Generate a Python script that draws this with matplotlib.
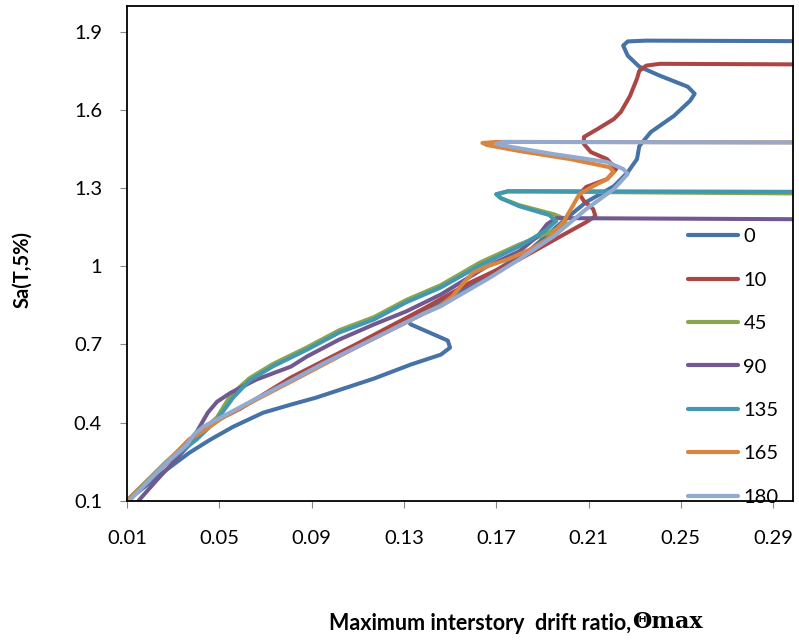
import matplotlib
matplotlib.use("Agg")
from matplotlib import pyplot as plt

plt.rcParams['font.family'] = ['Lato', 'DejaVu Sans']

# series values (drift ratio, Sa)
x_0 = [0.010, 0.027, 0.037, 0.046, 0.056, 0.069, 0.081, 0.092, 0.117, 0.133, 0.146, 0.150,
       0.149, 0.141, 0.133, 0.131, 0.135, 0.146, 0.159, 0.172, 0.185, 0.201, 0.209, 0.221,
       0.227, 0.231, 0.232, 0.237, 0.247, 0.254, 0.256, 0.253, 0.241, 0.232, 0.227, 0.225,
       0.227, 0.235, 0.400]
y_0 = [0.100, 0.218, 0.284, 0.334, 0.384, 0.438, 0.469, 0.496, 0.569, 0.623, 0.661, 0.688,
       0.715, 0.746, 0.777, 0.796, 0.819, 0.865, 0.923, 0.996, 1.066, 1.189, 1.247, 1.308,
       1.362, 1.412, 1.462, 1.516, 1.578, 1.636, 1.663, 1.690, 1.732, 1.767, 1.809, 1.848,
       1.864, 1.867, 1.862]

x_10 = [0.010, 0.027, 0.037, 0.046, 0.059, 0.081, 0.110, 0.138, 0.159, 0.180, 0.198, 0.209,
        0.213, 0.212, 0.208, 0.206, 0.209, 0.218, 0.222, 0.218, 0.211, 0.208, 0.208, 0.214,
        0.221, 0.224, 0.228, 0.231, 0.232, 0.235, 0.241, 0.400]
y_10 = [0.100, 0.245, 0.335, 0.395, 0.453, 0.573, 0.704, 0.835, 0.939, 1.027, 1.116, 1.170,
        1.193, 1.220, 1.251, 1.278, 1.305, 1.335, 1.374, 1.412, 1.439, 1.470, 1.497, 1.528,
        1.566, 1.593, 1.655, 1.721, 1.751, 1.771, 1.778, 1.772]

x_45 = [0.010, 0.027, 0.039, 0.049, 0.055, 0.063, 0.073, 0.088, 0.102, 0.117, 0.131, 0.146,
        0.163, 0.180, 0.193, 0.200, 0.200, 0.195, 0.180, 0.172, 0.170, 0.175, 0.185, 0.400]
y_45 = [0.100, 0.250, 0.342, 0.420, 0.506, 0.570, 0.624, 0.689, 0.755, 0.805, 0.871, 0.928,
        1.015, 1.084, 1.130, 1.158, 1.181, 1.200, 1.235, 1.262, 1.277, 1.287, 1.287, 1.274]

x_90 = [0.015, 0.023, 0.037, 0.045, 0.049, 0.055, 0.066, 0.081, 0.088, 0.102, 0.117, 0.131,
        0.146, 0.166, 0.180, 0.188, 0.192, 0.196, 0.204, 0.400]
y_90 = [0.100, 0.180, 0.315, 0.438, 0.480, 0.515, 0.565, 0.615, 0.654, 0.719, 0.777, 0.827,
        0.892, 1.000, 1.058, 1.116, 1.162, 1.185, 1.185, 1.177]

x_135 = [0.010, 0.027, 0.040, 0.049, 0.056, 0.063, 0.073, 0.088, 0.102, 0.117, 0.131, 0.146,
         0.163, 0.180, 0.191, 0.196, 0.193, 0.180, 0.172, 0.170, 0.175, 0.185, 0.400]
y_135 = [0.100, 0.245, 0.334, 0.411, 0.496, 0.561, 0.615, 0.680, 0.746, 0.796, 0.862, 0.919,
         1.004, 1.077, 1.135, 1.174, 1.197, 1.231, 1.262, 1.277, 1.289, 1.289, 1.284]

x_165 = [0.010, 0.027, 0.037, 0.044, 0.052, 0.066, 0.081, 0.110, 0.138, 0.146, 0.151, 0.156,
         0.160, 0.166, 0.175, 0.185, 0.192, 0.199, 0.203, 0.206, 0.212, 0.218, 0.221, 0.219,
         0.202, 0.180, 0.166, 0.164, 0.170, 0.400]
y_165 = [0.100, 0.245, 0.334, 0.373, 0.422, 0.488, 0.557, 0.692, 0.816, 0.850, 0.885, 0.938,
         0.976, 1.000, 1.027, 1.066, 1.104, 1.169, 1.230, 1.277, 1.308, 1.335, 1.362, 1.381,
         1.412, 1.443, 1.466, 1.474, 1.478, 1.475]

x_180 = [0.011, 0.027, 0.036, 0.039, 0.043, 0.052, 0.066, 0.081, 0.095, 0.110, 0.124, 0.138,
         0.146, 0.151, 0.166, 0.180, 0.195, 0.209, 0.221, 0.227, 0.225, 0.218, 0.195, 0.177,
         0.170, 0.173, 0.400]
y_180 = [0.100, 0.245, 0.315, 0.354, 0.384, 0.426, 0.492, 0.561, 0.627, 0.692, 0.754, 0.816,
         0.847, 0.873, 0.950, 1.027, 1.116, 1.220, 1.297, 1.355, 1.374, 1.401, 1.431, 1.458,
         1.470, 1.478, 1.474]

labels = ['0', '10', '45', '90', '135', '165', '180']
xs = [x_0, x_10, x_45, x_90, x_135, x_165, x_180]
ys = [y_0, y_10, y_45, y_90, y_135, y_165, y_180]
colors = ['#4572A7', '#AA4643', '#89A54E', '#71588F', '#4198AF', '#DB843D', '#93A9CF']

x_ticks = [0.01, 0.05, 0.09, 0.13, 0.17, 0.21, 0.25, 0.29]
x_tick_labels = ['0.01', '0.05', '0.09', '0.13', '0.17', '0.21', '0.25', '0.29']
y_ticks = [0.1, 0.4, 0.7, 1.0, 1.3, 1.6, 1.9]
y_tick_labels = ['0.1', '0.4', '0.7', '1', '1.3', '1.6', '1.9']

fig = plt.figure(figsize=(7.99, 6.44), dpi=100)
ax = fig.add_axes([127/799, 1-500.7/644, (793-127)/799, (500.7-6)/644])

for x, y, c, lab in zip(xs, ys, colors, labels):
    ax.plot(x, y, color=c, lw=2.9, label=lab, solid_joinstyle='round',
            solid_capstyle='round')

ax.set_xlim(0.01, 0.2986)
ax.set_ylim(0.1, 2.0)
ax.set_xticks(x_ticks)
ax.set_xticklabels(x_tick_labels)
ax.set_yticks(y_ticks)
ax.set_yticklabels(y_tick_labels)
ax.tick_params(axis='both', labelsize=14.5, length=5, color='#888888', direction='out')
ax.tick_params(axis='x', pad=16)
ax.tick_params(axis='y', pad=13)
for s in ax.spines.values():
    s.set_color('black')
    s.set_linewidth(1.3)

leg = fig.legend(loc='upper left', bbox_to_anchor=(688/799, 1-228/644),
                 frameon=False, fontsize=14.5, handlelength=2.5, handletextpad=0.25,
                 labelspacing=1.31, borderpad=0, borderaxespad=0)
for line in leg.get_lines():
    line.set_linewidth(3)

fig.text(22/799, 1-269/644, 'Sa(T,5%)', rotation=90, ha='center', va='center',
         fontsize=14.5, fontweight='bold')
fig.text(631/799, 1-623/644, 'Maximum interstory  drift ratio,', ha='right', va='center',
         fontsize=15.5, fontweight='bold')
fig.text(632/799, 1-622/644, 'Θmax', ha='left', va='center', fontsize=16,
         fontweight='bold', family=['DejaVu Serif'])

fig.savefig('out.png', dpi=100)
